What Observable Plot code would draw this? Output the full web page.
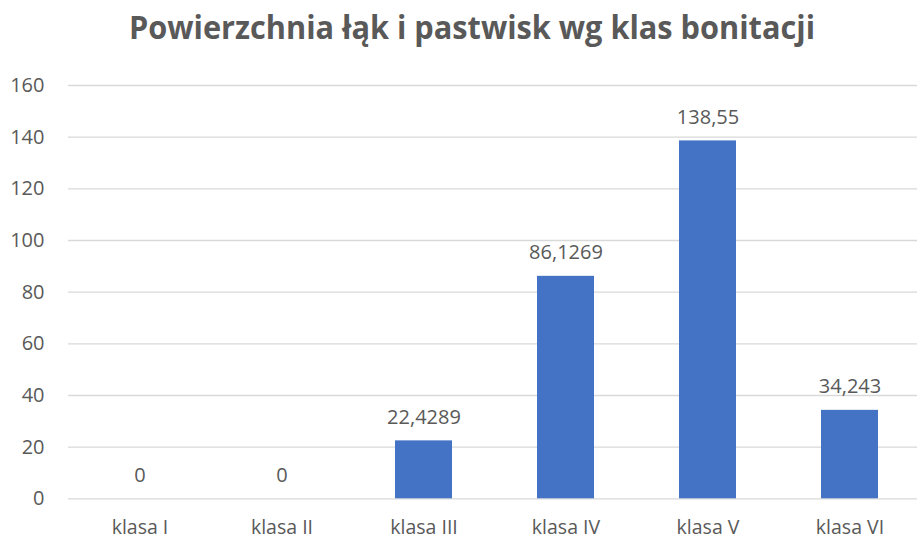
<!DOCTYPE html>
<html>
<head>
<meta charset="utf-8">
<script src="https://cdn.jsdelivr.net/npm/d3@7"></script>
<script src="https://cdn.jsdelivr.net/npm/@observablehq/plot@0.6"></script>
<style>
  html, body { margin: 0; padding: 0; background: #fff; }
  #title { display: block; }
</style>
</head>
<body>
<svg id="title" width="917" height="60">
  <text x="129" y="39" font-family="Open Sans" font-weight="700" font-size="32" fill="#595959"
        textLength="686" lengthAdjust="spacingAndGlyphs">Powierzchnia łąk i pastwisk wg klas bonitacji</text>
</svg>
<div id="chart"></div>
<script>
const categories = ["klasa I", "klasa II", "klasa III", "klasa IV", "klasa V", "klasa VI"];
const values = [0, 0, 22.4289, 86.1269, 138.55, 34.243];
const yTicks = [0, 20, 40, 60, 80, 100, 120, 140, 160];

const data = categories.map((c, i) => ({category: c, value: values[i]}));
const fmt = v => String(v).replace(".", ",");

const chart = Plot.plot({
  width: 917,
  height: 480,
  marginLeft: 68,
  marginRight: 0,
  marginTop: 25,
  marginBottom: 41.7,
  style: {fontFamily: "Open Sans", fontSize: "20px", color: "#595959", background: "white"},
  x: {type: "band", domain: categories, range: [67.85, 921.65], paddingInner: 0.6, paddingOuter: 0.3},
  y: {domain: [0, 160], range: [438.3, 25]},
  marks: [
    Plot.gridY(yTicks, {stroke: "#d9d9d9", strokeOpacity: 1, strokeWidth: 1.3}),
    Plot.barY(data, {x: "category", y: "value", fill: "#4472C4"}),
    Plot.text(data, {x: "category", y: "value", text: d => fmt(d.value), lineAnchor: "bottom", dy: -17, fill: "#595959", fontSize: 20}),
    Plot.axisY(yTicks, {tickSize: 0, tickPadding: 24, fontSize: 20, fill: "#595959", label: null, tickFormat: d => String(d)}),
    Plot.axisX({tickSize: 0, tickPadding: 21, fontSize: 19.5, fill: "#595959", label: null})
  ]
});
document.getElementById("chart").appendChild(chart);
</script>
</body>
</html>
